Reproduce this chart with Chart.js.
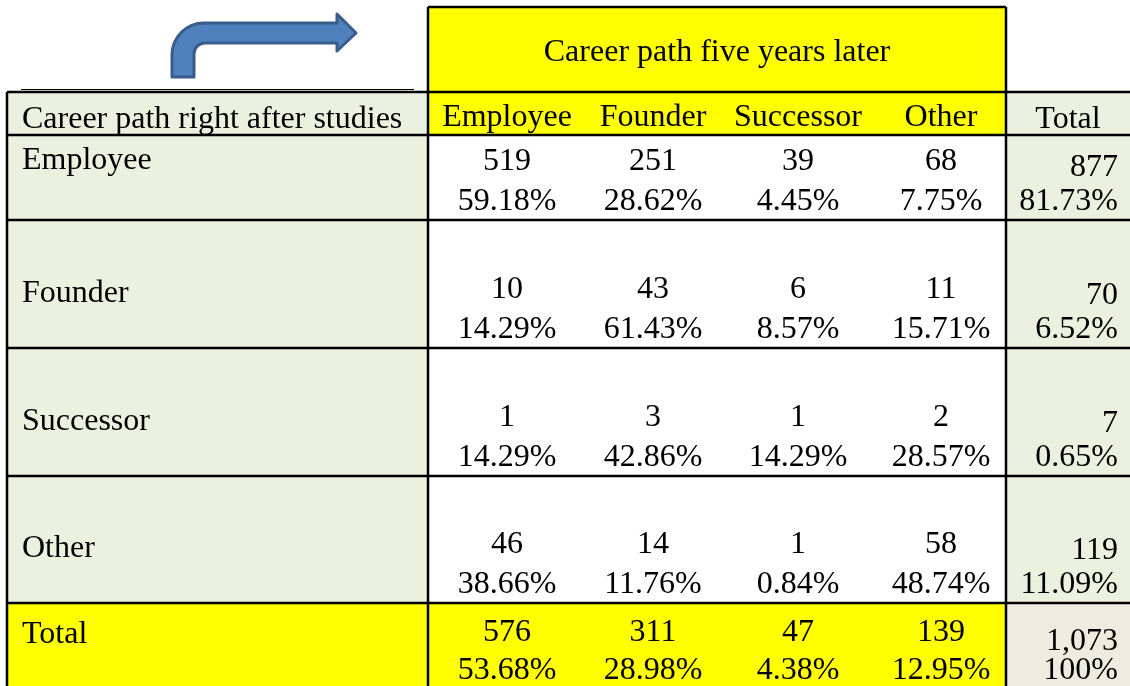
<!DOCTYPE html>
<html lang="en">
<head>
    <meta charset="UTF-8">
    <title>Career path transitions</title>
    <script src="https://cdn.jsdelivr.net/npm/chart.js"></script>
    <style>
        body { margin: 0; background: #fff; }
        canvas { display: block; }
    </style>
</head>
<body>
    <canvas id="tableChart" width="1130" height="686"></canvas>
    <script>
        const bannerTitle = "Career path five years later";
        const cornerTitle = "Career path right after studies";
        const colCats = ["Employee", "Founder", "Successor", "Other"];
        const rowCats = ["Employee", "Founder", "Successor", "Other"];
        const counts = [
            [519, 251, 39, 68],
            [10, 43, 6, 11],
            [1, 3, 1, 2],
            [46, 14, 1, 58]
        ];
        const rowShares = [
            ["59.18%", "28.62%", "4.45%", "7.75%"],
            ["14.29%", "61.43%", "8.57%", "15.71%"],
            ["14.29%", "42.86%", "14.29%", "28.57%"],
            ["38.66%", "11.76%", "0.84%", "48.74%"]
        ];
        const rowTotals = [877, 70, 7, 119];
        const rowTotalShares = ["81.73%", "6.52%", "0.65%", "11.09%"];
        const colTotals = [576, 311, 47, 139];
        const colTotalShares = ["53.68%", "28.98%", "4.38%", "12.95%"];
        const grandTotal = "1,073";
        const grandShare = "100%";

        // layout, in scale units (1 unit = 1 px)
        const colEdges = [7, 428, 1006, 1135];
        const colCenters = [507, 653, 798, 941];
        const rowEdges = [92, 135, 220, 348, 476, 603, 690];
        const bannerBox = [428, 7, 1006, 92];
        const totalRight = 1118;
        const labelLeft = 22;

        const GREEN = "#EBF1DE";
        const YELLOW = "#FFFF00";
        const GREY = "#EEECE1";
        const FONT = '32px "Liberation Serif", "Times New Roman", serif';

        const tablePlugin = {
            id: "tablePlugin",
            afterDraw(chart) {
                const ctx = chart.ctx;
                const sx = chart.scales.x, sy = chart.scales.y;
                const X = v => sx.getPixelForValue(v);
                const Y = v => sy.getPixelForValue(v);

                function fill(x0, y0, x1, y1, color) {
                    ctx.fillStyle = color;
                    ctx.fillRect(X(x0), Y(y0), X(x1) - X(x0), Y(y1) - Y(y0));
                }
                function line(x0, y0, x1, y1, w) {
                    ctx.beginPath();
                    ctx.lineWidth = w || 2.5;
                    ctx.strokeStyle = "#000";
                    ctx.moveTo(X(x0), Y(y0));
                    ctx.lineTo(X(x1), Y(y1));
                    ctx.stroke();
                }
                function text(str, x, y, align) {
                    ctx.fillStyle = "#000";
                    ctx.font = FONT;
                    ctx.textAlign = align || "center";
                    ctx.textBaseline = "alphabetic";
                    ctx.fillText(str, X(x), Y(y));
                }

                ctx.save();
                const [c0, c1, c2, c3] = colEdges;
                const nRows = rowEdges.length - 1;

                // backgrounds
                fill(bannerBox[0], bannerBox[1], bannerBox[2], bannerBox[3], YELLOW);
                fill(c0, rowEdges[0], c1, rowEdges[nRows - 1], GREEN);
                fill(c1, rowEdges[0], c2, rowEdges[1], YELLOW);
                fill(c2, rowEdges[0], c3, rowEdges[nRows - 1], GREEN);
                fill(c0, rowEdges[nRows - 1], c2, rowEdges[nRows], YELLOW);
                fill(c2, rowEdges[nRows - 1], c3, rowEdges[nRows], GREY);

                // bent arrow
                ctx.beginPath();
                ctx.moveTo(X(172), Y(77));
                ctx.lineTo(X(172), Y(55));
                ctx.arcTo(X(172), Y(23), X(204), Y(23), 32);
                ctx.lineTo(X(337), Y(23));
                ctx.lineTo(X(337), Y(14));
                ctx.lineTo(X(356), Y(33));
                ctx.lineTo(X(337), Y(51));
                ctx.lineTo(X(337), Y(43));
                ctx.lineTo(X(205), Y(43));
                ctx.arcTo(X(194), Y(43), X(194), Y(54), 11);
                ctx.lineTo(X(194), Y(77));
                ctx.closePath();
                ctx.fillStyle = "#4F81BD";
                ctx.fill();
                ctx.lineWidth = 3;
                ctx.strokeStyle = "#385D8A";
                ctx.lineJoin = "round";
                ctx.stroke();

                // grid lines
                line(bannerBox[0], bannerBox[1], bannerBox[2], bannerBox[1]);
                line(bannerBox[0], bannerBox[1], bannerBox[0], bannerBox[3]);
                line(bannerBox[2], bannerBox[1], bannerBox[2], bannerBox[3]);
                line(21, 89.5, 414, 89.5, 1);
                rowEdges.slice(0, nRows).forEach(y => line(c0, y, c3, y));
                [c0, c1, c2].forEach(x => line(x, rowEdges[0], x, rowEdges[nRows]));

                // header texts
                text(bannerTitle, (bannerBox[0] + bannerBox[2]) / 2, 61);
                text(cornerTitle, labelLeft, 128, "left");
                colCats.forEach((c, i) => text(c, colCenters[i], 126));
                text("Total", (c2 + totalRight) / 2 + 6, 128);

                // body rows
                rowCats.forEach((r, i) => {
                    const bottom = rowEdges[i + 2];
                    const numY = bottom - 50;
                    text(r, labelLeft, i === 0 ? numY - 1 : numY + 4, "left");
                    counts[i].forEach((v, j) => {
                        text(String(v), colCenters[j], numY);
                        text(rowShares[i][j], colCenters[j], bottom - 10);
                    });
                    text(String(rowTotals[i]), totalRight, numY + 6, "right");
                    text(rowTotalShares[i], totalRight, bottom - 10, "right");
                });

                // total row
                const tTop = rowEdges[nRows - 1];
                text("Total", labelLeft, tTop + 40, "left");
                colTotals.forEach((v, j) => {
                    text(String(v), colCenters[j], tTop + 38);
                    text(colTotalShares[j], colCenters[j], tTop + 76);
                });
                text(grandTotal, totalRight, tTop + 47, "right");
                text(grandShare, totalRight, tTop + 76, "right");
                ctx.restore();
            }
        };

        new Chart(document.getElementById("tableChart"), {
            type: "scatter",
            data: { datasets: [] },
            options: {
                responsive: false,
                animation: false,
                layout: { padding: 0 },
                plugins: { legend: { display: false }, tooltip: { enabled: false } },
                scales: {
                    x: { type: "linear", min: 0, max: 1130, display: false },
                    y: { type: "linear", min: 0, max: 686, reverse: true, display: false }
                }
            },
            plugins: [tablePlugin]
        });
    </script>
</body>
</html>
